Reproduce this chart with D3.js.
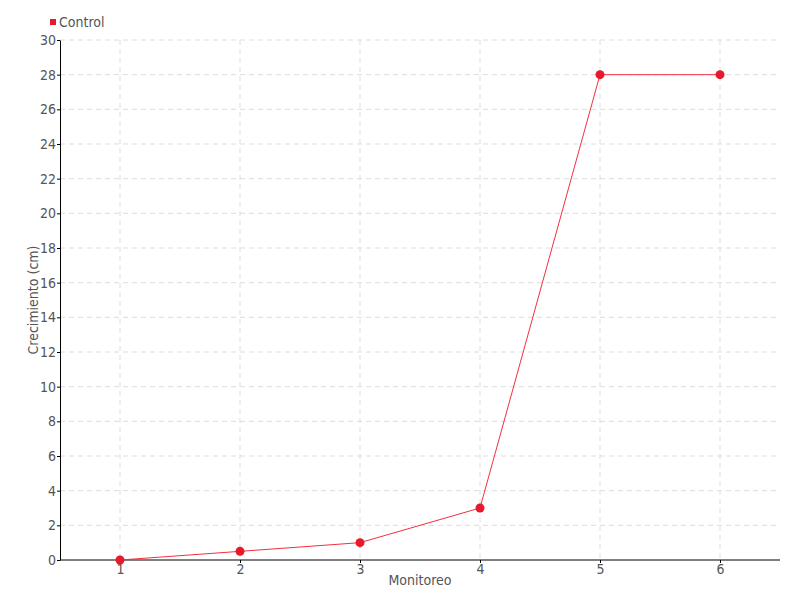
<!DOCTYPE html>
<html>
<head>
<meta charset="utf-8">
<script src="https://cdn.jsdelivr.net/npm/d3@7"></script>
<style>
  body { margin: 0; background: #fff; }
  text { font-family: "Liberation Sans Narrow", "DejaVu Sans Condensed", sans-serif; fill: #555; }
  .grid line { stroke: #ddd; stroke-dasharray: 5,4; }
  .axis path, .axis line { stroke: #000; }
</style>
</head>
<body>
<svg id="root"></svg>
<script>
const monitoreo = ["1", "2", "3", "4", "5", "6"];
const control = [0, 0.5, 1, 3, 28, 28];
const yTicks = d3.range(0, 31, 2);

const width = 800, height = 600;
const margin = {top: 40, right: 20, bottom: 40, left: 60};

const svg = d3.select("#root").attr("width", width).attr("height", height);

const x = d3.scalePoint()
  .domain(monitoreo)
  .range([margin.left, width - margin.right])
  .padding(0.5);

const y = d3.scaleLinear()
  .domain([0, 30])
  .range([height - margin.bottom, margin.top]);

// grid
svg.append("g").attr("class", "grid")
  .selectAll("line.h")
  .data(yTicks.filter(d => d > 0))
  .enter().append("line")
  .attr("x1", margin.left).attr("x2", width - margin.right)
  .attr("y1", d => y(d)).attr("y2", d => y(d));

svg.append("g").attr("class", "grid")
  .selectAll("line.v")
  .data(monitoreo)
  .enter().append("line")
  .attr("x1", d => x(d)).attr("x2", d => x(d))
  .attr("y1", margin.top).attr("y2", height - margin.bottom);

// axes
let yAxis = svg.append("g").attr("class", "axis")
  .attr("transform", `translate(${margin.left},0)`)
  .call(d3.axisLeft(y).tickValues(yTicks).tickSize(3).tickSizeOuter(0));

let xAxis = svg.append("g").attr("class", "axis")
  .attr("transform", `translate(0,${height - margin.bottom})`)
  .call(d3.axisBottom(x).tickSize(3).tickSizeOuter(0));

yAxis.selectAll("text").style("font-size", "14px").attr("x", -4);
xAxis.selectAll("text").style("font-size", "14px").attr("y", 4);
xAxis.select(".domain").attr("d", `M${margin.left},0H${width - margin.right}`);

svg.append("text")
  .attr("x", (margin.left + width - margin.right) / 2)
  .attr("y", 585)
  .attr("text-anchor", "middle")
  .style("font-size", "14px")
  .text("Monitoreo");

svg.append("text")
  .attr("transform", `translate(38,${(margin.top + height - margin.bottom) / 2}) rotate(-90)`)
  .attr("text-anchor", "middle")
  .style("font-size", "14px")
  .text("Crecimiento (cm)");

// series
const pts = monitoreo.map((m, i) => ({m: m, v: control[i]}));

svg.append("path")
  .datum(pts)
  .attr("fill", "none")
  .attr("stroke", "#f0303f")
  .attr("stroke-width", 1)
  .attr("d", d3.line().x(d => x(d.m)).y(d => y(d.v)));

svg.selectAll(".dot")
  .data(pts)
  .enter().append("circle")
  .attr("class", "dot")
  .attr("cx", d => x(d.m))
  .attr("cy", d => y(d.v))
  .attr("r", 4.5)
  .attr("fill", "#e8192c");

// legend
svg.append("rect")
  .attr("x", 50).attr("y", 19).attr("width", 6).attr("height", 6)
  .attr("fill", "#e8192c");
svg.append("text")
  .attr("x", 59).attr("y", 27)
  .style("font-size", "14px")
  .text("Control");
</script>
</body>
</html>
